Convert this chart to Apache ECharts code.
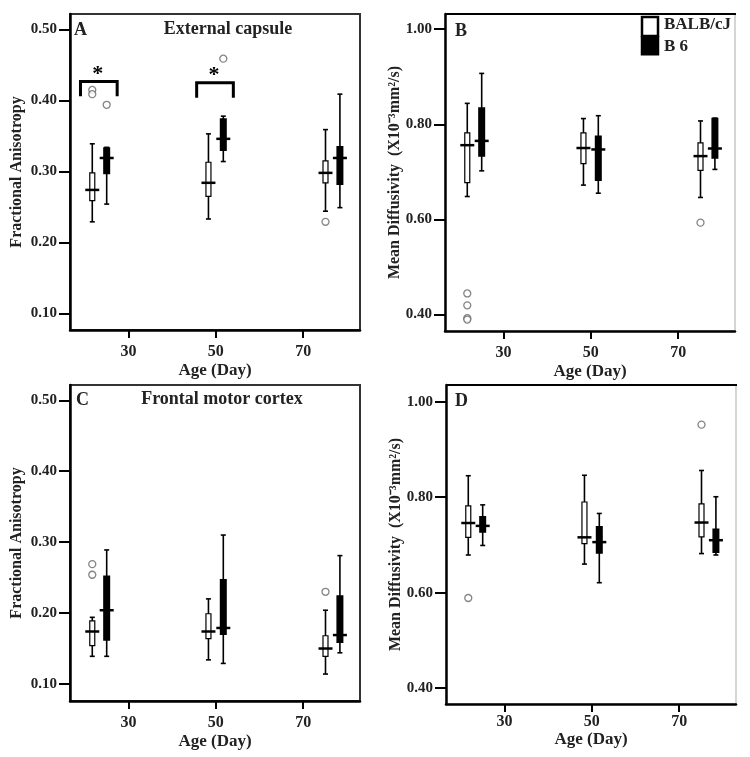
<!DOCTYPE html>
<html><head><meta charset="utf-8">
<script src="https://cdn.jsdelivr.net/npm/echarts@6/dist/echarts.min.js"></script>
<style>html,body{margin:0;padding:0;background:#fff}#c{width:750px;height:757px}</style>
</head><body><div id="c"></div>
<script>
// ---- data ----
const ageTicks = [30, 50, 70];
const faTicks = [0.1, 0.2, 0.3, 0.4, 0.5];
const mdTicks = [0.4, 0.6, 0.8, 1.0];
const xBALB = [21.7, 48.3, 75.1];
const xB6 = [25.0, 51.7, 78.4];
// each box: [min, Q1, median, Q3, max]
const aBALB = [[0.229,0.259,0.274,0.298,0.339],[0.233,0.265,0.284,0.313,0.353],[0.244,0.284,0.298,0.315,0.359]];
const aB6   = [[0.254,0.297,0.319,0.333,0.334],[0.314,0.330,0.346,0.374,0.378],[0.249,0.282,0.319,0.335,0.409]];
const aOutBALB = [[21.7,0.415],[21.7,0.409],[75.1,0.229]];
const aOutB6   = [[25.0,0.394],[51.7,0.459]];
const aSig = [[19.0,27.4,0.427,0.406],[45.6,54.0,0.425,0.404]];

const bBALB = [[0.648,0.677,0.756,0.782,0.844],[0.672,0.717,0.750,0.782,0.812],[0.646,0.703,0.733,0.761,0.807]];
const bB6   = [[0.702,0.733,0.765,0.834,0.907],[0.655,0.682,0.747,0.775,0.818],[0.705,0.729,0.749,0.812,0.813]];
const bOutBALB = [[21.7,0.444],[21.7,0.419],[21.7,0.392],[21.7,0.389],[75.1,0.593]];

const cBALB = [[0.139,0.154,0.174,0.189,0.194],[0.134,0.164,0.174,0.199,0.220],[0.114,0.139,0.150,0.168,0.204]];
const cB6   = [[0.139,0.162,0.204,0.252,0.289],[0.129,0.170,0.179,0.247,0.310],[0.144,0.159,0.169,0.224,0.281]];
const cOutBALB = [[21.7,0.269],[21.7,0.254],[75.1,0.230]];

const dBALB = [[0.679,0.716,0.746,0.782,0.845],[0.660,0.703,0.716,0.790,0.846],[0.682,0.717,0.747,0.786,0.856]];
const dB6   = [[0.699,0.727,0.740,0.759,0.784],[0.621,0.683,0.706,0.738,0.766],[0.679,0.685,0.710,0.733,0.801]];
const dOutBALB = [[21.7,0.589],[75.1,0.952]];

// ---- chart ----
const FONT = 'Liberation Serif';
const chart = echarts.init(document.getElementById('c'), null, {renderer:'canvas'});

function boxRender(filled){
  return function(params, api){
    const x = api.value(0);
    const lo = api.coord([x, api.value(1)]);
    const q1 = api.coord([x, api.value(2)]);
    const md = api.coord([x, api.value(3)]);
    const q3 = api.coord([x, api.value(4)]);
    const hi = api.coord([x, api.value(5)]);
    const cx = lo[0];
    const bw = filled ? 5.5 : 5;
    const cap = 2.5;
    const st = {stroke:'#000', lineWidth:1.6};
    return {type:'group', children:[
      {type:'line', shape:{x1:cx,y1:hi[1],x2:cx,y2:lo[1]}, style:st},
      {type:'line', shape:{x1:cx-cap,y1:hi[1],x2:cx+cap,y2:hi[1]}, style:st},
      {type:'line', shape:{x1:cx-cap,y1:lo[1],x2:cx+cap,y2:lo[1]}, style:st},
      {type:'rect', shape:{x:cx-bw/2,y:q3[1],width:bw,height:q1[1]-q3[1]}, style:{fill:filled?'#000':'#fff', stroke:'#000', lineWidth:filled?1.5:1.2}},
      {type:'line', shape:{x1:cx-7,y1:md[1],x2:cx+7,y2:md[1]}, style:{stroke:'#000', lineWidth:2.5}}
    ]};
  };
}
function boxSeries(xs, boxes, filled, idx){
  return {type:'custom', xAxisIndex:idx, yAxisIndex:idx, renderItem:boxRender(filled),
    data: xs.map((x,i)=>[x].concat(boxes[i])), encode:{x:0, y:[1,2,3,4,5]}, z:3};
}
function outSeries(pts, idx){
  return {type:'scatter', xAxisIndex:idx, yAxisIndex:idx, data:pts, symbol:'circle', symbolSize:7,
    itemStyle:{color:'#fff', borderColor:'#666', borderWidth:1.3}, z:4};
}
function sigSeries(br, idx){
  return {type:'custom', xAxisIndex:idx, yAxisIndex:idx, data:br, encode:{x:[0,1], y:[2,3]},
    renderItem:function(params, api){
      const p1 = api.coord([api.value(0), api.value(3)]);
      const p2 = api.coord([api.value(0), api.value(2)]);
      const p3 = api.coord([api.value(1), api.value(2)]);
      const p4 = api.coord([api.value(1), api.value(3)]);
      return {type:'group', children:[
        {type:'polyline', shape:{points:[p1,p2,p3,p4]}, style:{stroke:'#000', lineWidth:3, fill:null}},
        {type:'text', style:{text:'*', x:(p2[0]+p3[0])/2 - 1, y:p2[1]+4, textAlign:'center', textVerticalAlign:'bottom', font:'bold 22px "'+FONT+'"', fill:'#000'}}
      ]};
    }, z:3};
}

const grids = [
  {left:70, top:14, width:290, height:316},
  {left:445, top:14, width:290, height:317},
  {left:70, top:385, width:290, height:316},
  {left:446, top:385, width:290, height:319}
];
const labelStyle = {fontFamily:FONT, fontWeight:'bold', fontSize:15, color:'#222'};
function xAx(idx, gap, margin){
  return {type:'value', gridIndex:idx, min:16.6, max:83,
    name:'Age (Day)', nameLocation:'middle', nameGap:gap, nameMoveOverlap:false,
    nameTextStyle:{fontFamily:FONT, fontWeight:'bold', fontSize:17, color:'#222'},
    axisLine:{show:true, lineStyle:{color:'#000', width:2.5}},
    axisTick:{show:true, length:8, lineStyle:{color:'#000', width:2}, customValues:ageTicks},
    axisLabel:Object.assign({margin:margin, customValues:ageTicks}, labelStyle, {fontSize:16}),
    splitLine:{show:false}};
}
function yAx(idx, min, max, ticks, name, gap){
  return {type:'value', gridIndex:idx, min:min, max:max,
    name:name, nameLocation:'middle', nameGap:gap, nameMoveOverlap:false,
    nameTextStyle:{fontFamily:FONT, fontWeight:'bold', fontSize:16, color:'#222'},
    axisLine:{show:true, lineStyle:{color:'#000', width:2.5}},
    axisTick:{show:true, length:11, lineStyle:{color:'#000', width:2}, customValues:ticks},
    axisLabel:Object.assign({margin:13, customValues:ticks, formatter:v=>v.toFixed(2)}, labelStyle),
    splitLine:{show:false}};
}
const titleFont = 'bold 18px "'+FONT+'"';
function txt(t, x, y, align, font){
  return {type:'text', style:{text:t, x:x, y:y, textAlign:align||'left', textVerticalAlign:'middle', font:font||titleFont, fill:'#222'}, z:10};
}
function hline(x1, x2, y, c, w){
  return {type:'line', shape:{x1:x1, y1:y, x2:x2, y2:y}, style:{stroke:c, lineWidth:w}, z:10};
}

chart.setOption({
  animation:false,
  backgroundColor:'#fff',
  grid: grids.map((g,i)=>Object.assign({show:true, borderColor:(i%2===0)?'#333':'#c8c8c8', borderWidth:(i%2===0)?2:1.5, backgroundColor:'#fff'}, g)),
  xAxis:[xAx(0,32,14), xAx(1,32,14), xAx(2,32,14), xAx(3,27,10)],
  yAxis:[
    yAx(0, 0.0765, 0.522, faTicks, 'Fractional Anisotropy', 45),
    yAx(1, 0.365, 1.032, mdTicks, 'Mean Diffusivity  (X10⁻³mm²/s)', 42),
    yAx(2, 0.076, 0.5216, faTicks, 'Fractional Anisotropy', 45),
    yAx(3, 0.367, 1.035, mdTicks, 'Mean Diffusivity  (X10⁻³mm²/s)', 42)
  ],
  series:[
    boxSeries(xBALB, aBALB, false, 0), boxSeries(xB6, aB6, true, 0),
    outSeries(aOutBALB, 0), outSeries(aOutB6, 0), sigSeries(aSig, 0),
    boxSeries(xBALB, bBALB, false, 1), boxSeries(xB6, bB6, true, 1),
    outSeries(bOutBALB, 1),
    boxSeries(xBALB, cBALB, false, 2), boxSeries(xB6, cB6, true, 2),
    outSeries(cOutBALB, 2),
    boxSeries(xBALB, dBALB, false, 3), boxSeries(xB6, dB6, true, 3),
    outSeries(dOutBALB, 3)
  ],
  graphic:[
    hline(445, 736, 14, '#000', 2),
    hline(446, 737, 385, '#000', 2),
    txt('A', 74, 30), txt('External capsule', 228, 29, 'center'),
    txt('B', 455, 31),
    txt('C', 76, 400), txt('Frontal motor cortex', 222, 399, 'center'),
    txt('D', 455, 401),
    {type:'rect', shape:{x:642, y:17, width:16, height:19}, style:{fill:'#fff', stroke:'#000', lineWidth:2.5}, z:10},
    {type:'rect', shape:{x:640.75, y:36, width:18.5, height:19.5}, style:{fill:'#000'}, z:10},
    txt('BALB/cJ', 664, 25, 'left', 'bold 17px "'+FONT+'"'),
    txt('B 6', 664, 47, 'left', 'bold 17px "'+FONT+'"')
  ]
});
</script></body></html>
